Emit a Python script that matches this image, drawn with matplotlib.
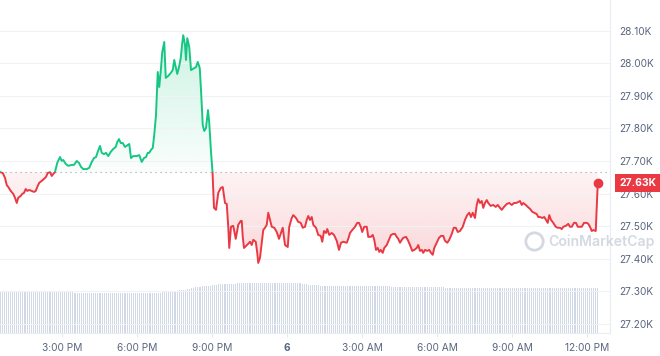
import numpy as np
import matplotlib.pyplot as plt
from matplotlib.patches import Rectangle
from matplotlib.colors import to_rgb

# ========================================
# Data (hours relative to midnight of the 6th, price in USD)
# ========================================

hours_a = [-11.48, -11.37, -11.28, -11.21, -11.15, -11.05, -10.95, -10.88, -10.81, -10.75,
           -10.65, -10.59, -10.52, -10.45, -10.39, -10.31, -10.21, -10.12, -10.05, -9.99,
           -9.91, -9.81, -9.72, -9.64, -9.57, -9.48, -9.41, -9.35, -9.28, -9.19,
           -9.08, -9.01, -8.95, -8.85, -8.75, -8.61, -8.52, -8.41, -8.32, -8.24,
           -8.15, -8.01, -7.91, -7.81, -7.72, -7.64, -7.57, -7.48, -7.41, -7.32,
           -7.24, -7.15, -7.05, -6.95, -6.85, -6.79, -6.72, -6.65, -6.57, -6.48]
price_a = [27666, 27663, 27648, 27626, 27620, 27608, 27599, 27587, 27571, 27587,
           27593, 27599, 27602, 27614, 27608, 27611, 27608, 27605, 27608, 27620,
           27633, 27639, 27645, 27651, 27663, 27666, 27654, 27660, 27666, 27694,
           27712, 27700, 27703, 27691, 27685, 27688, 27688, 27700, 27694, 27682,
           27675, 27675, 27679, 27697, 27709, 27712, 27728, 27746, 27725, 27721,
           27725, 27715, 27728, 27737, 27743, 27758, 27767, 27755, 27755, 27743]

hours_b = [-6.37, -6.31, -6.24, -6.15, -6.01, -5.91, -5.81, -5.72, -5.64, -5.57,
           -5.51, -5.44, -5.37, -5.31, -5.24, -5.17, -5.11, -5.04, -4.99, -4.91,
           -4.85, -4.75, -4.65, -4.57, -4.51, -4.45, -4.39, -4.32, -4.25, -4.19,
           -4.15, -4.08, -4.04, -3.99, -3.91, -3.84, -3.77, -3.71, -3.64, -3.57,
           -3.49, -3.44, -3.37, -3.31, -3.24, -3.16, -3.11, -3.04, -2.98]
price_b = [27749, 27752, 27709, 27715, 27715, 27718, 27697, 27709, 27712, 27725,
           27725, 27734, 27740, 27780, 27841, 27973, 27927, 27985, 28034, 28065,
           27955, 27961, 27970, 27979, 28010, 27988, 27967, 27988, 28016, 28062,
           28086, 28056, 28010, 28077, 28050, 27979, 27982, 27985, 27988, 28004,
           27985, 27918, 27810, 27792, 27801, 27856, 27817, 27728, 27666]

hours_c = [-2.92, -2.84, -2.75, -2.65, -2.57, -2.48, -2.41, -2.35, -2.31, -2.24,
           -2.15, -2.05, -1.95, -1.85, -1.81, -1.77, -1.72, -1.64, -1.55, -1.48,
           -1.41, -1.35, -1.25, -1.19, -1.15, -1.08, -1.01, -0.95, -0.88, -0.81,
           -0.75, -0.68, -0.61, -0.51, -0.41, -0.32, -0.24, -0.17, -0.08, 0.03,
           0.09, 0.19, 0.25, 0.36, 0.45, 0.55, 0.63, 0.72, 0.79, 0.85,
           0.92, 0.99, 1.05, 1.16, 1.25, 1.35, 1.41, 1.48, 1.56, 1.61,
           1.69, 1.79, 1.88]
price_c = [27556, 27550, 27602, 27617, 27620, 27571, 27568, 27498, 27433, 27498,
           27501, 27461, 27504, 27516, 27516, 27467, 27433, 27439, 27446, 27452,
           27442, 27458, 27452, 27418, 27387, 27403, 27449, 27488, 27495, 27504,
           27541, 27519, 27498, 27495, 27482, 27461, 27479, 27495, 27442, 27436,
           27498, 27525, 27534, 27525, 27513, 27510, 27495, 27498, 27519, 27531,
           27519, 27528, 27504, 27495, 27473, 27470, 27452, 27485, 27479, 27491,
           27473, 27479, 27473]

hours_d = [1.99, 2.08, 2.16, 2.25, 2.39, 2.45, 2.52, 2.61, 2.72, 2.81,
           2.88, 2.95, 3.01, 3.09, 3.19, 3.25, 3.35, 3.43, 3.49, 3.56,
           3.63, 3.69, 3.75, 3.83, 3.89, 3.99, 4.08, 4.16, 4.25, 4.32,
           4.39, 4.45, 4.52, 4.59, 4.65, 4.76, 4.83, 4.92, 5.01, 5.09,
           5.19, 5.25, 5.32, 5.39, 5.45, 5.52, 5.61, 5.69, 5.76, 5.83,
           5.89, 5.99, 6.08, 6.16, 6.25, 6.32, 6.41, 6.49, 6.59, 6.67,
           6.75, 6.83, 6.92]
price_d = [27455, 27427, 27449, 27452, 27449, 27461, 27479, 27488, 27498, 27510,
           27510, 27498, 27482, 27498, 27498, 27467, 27467, 27473, 27458, 27427,
           27433, 27421, 27427, 27418, 27433, 27442, 27458, 27473, 27476, 27476,
           27467, 27461, 27449, 27458, 27464, 27467, 27458, 27442, 27424, 27427,
           27433, 27442, 27424, 27427, 27418, 27427, 27424, 27427, 27418, 27412,
           27433, 27449, 27464, 27470, 27470, 27455, 27449, 27458, 27476, 27495,
           27495, 27482, 27485]

hours_e = [7.03, 7.12, 7.21, 7.29, 7.36, 7.43, 7.52, 7.59, 7.65, 7.72,
           7.79, 7.85, 7.92, 7.99, 8.05, 8.15, 8.25, 8.35, 8.43, 8.52,
           8.59, 8.68, 8.79, 8.89, 8.99, 9.08, 9.16, 9.25, 9.32, 9.39,
           9.45, 9.55, 9.63, 9.72, 9.81, 9.89, 9.99, 10.05, 10.12, 10.21,
           10.29, 10.36, 10.43, 10.49, 10.56, 10.65, 10.75, 10.83, 10.92, 10.99,
           11.05, 11.16, 11.25, 11.32, 11.39, 11.48, 11.56, 11.63, 11.72, 11.79,
           11.88, 11.99, 12.05, 12.12, 12.19, 12.25, 12.35, 12.43]
price_e = [27498, 27519, 27534, 27541, 27528, 27541, 27525, 27565, 27583, 27571,
           27577, 27556, 27571, 27580, 27571, 27562, 27565, 27559, 27565, 27556,
           27550, 27559, 27568, 27571, 27565, 27571, 27571, 27574, 27577, 27565,
           27571, 27565, 27559, 27553, 27544, 27541, 27537, 27528, 27528, 27525,
           27528, 27519, 27510, 27534, 27519, 27510, 27498, 27495, 27495, 27491,
           27498, 27501, 27507, 27498, 27498, 27510, 27510, 27498, 27498, 27498,
           27510, 27510, 27507, 27498, 27485, 27488, 27485, 27632]

# 24h rolling volume (billion USD), one bar every 5 minutes, one row per hour
volume = [
    12.2, 12.2, 12.2, 12.2, 12.2, 12.2, 12.2, 12.2, 12.2, 12.2, 12.2, 12.2,
    12.2, 12.2, 12.2, 12.2, 12.2, 12.2, 12.2, 12.2, 12.2, 12.2, 12.2, 12.2,
    12.2, 12.2, 12.2, 12.2, 12.2, 12.2, 12.2, 12.2, 12.2, 12.2, 12.2, 12.2,
    12.1, 12.1, 12.1, 12.0, 12.0, 12.0, 12.0, 12.0, 12.0, 12.0, 12.0, 12.0,
    12.0, 12.0, 12.0, 12.0, 12.0, 12.0, 12.0, 12.0, 12.0, 12.0, 12.0, 12.0,
    12.0, 12.0, 12.0, 12.0, 12.0, 12.0, 12.0, 12.0, 12.0, 12.0, 12.0, 12.0,
    12.0, 12.0, 12.0, 12.0, 12.0, 12.0, 12.6, 12.6, 12.6, 12.6, 12.7, 12.7,
    12.7, 12.7, 12.8, 12.8, 12.9, 13.0, 13.2, 13.3, 13.5, 13.6, 13.7, 13.8,
    13.9, 14.0, 14.0, 14.1, 14.1, 14.2, 14.3, 14.4, 14.5, 14.6, 14.6, 14.7,
    14.7, 14.7, 14.8, 14.8, 14.8, 14.8, 14.9, 14.9, 14.9, 14.9, 14.9, 14.9,
    15.0, 15.0, 15.0, 15.0, 15.0, 15.0, 15.0, 15.0, 15.0, 15.0, 15.0, 15.0,
    15.0, 15.0, 15.0, 15.0, 15.0, 15.0, 15.0, 15.0, 15.0, 15.0, 15.0, 15.0,
    14.9, 14.7, 14.6, 14.6, 14.5, 14.5, 14.4, 14.4, 14.3, 14.3, 14.2, 14.2,
    14.1, 14.1, 14.0, 14.0, 14.0, 14.0, 14.0, 14.0, 14.0, 14.0, 14.0, 14.0,
    14.0, 14.0, 14.0, 14.0, 14.0, 14.0, 14.0, 14.0, 14.0, 14.0, 14.0, 14.0,
    14.0, 14.0, 14.0, 14.0, 14.0, 14.0, 14.0, 14.1, 13.9, 13.9, 13.9, 13.9,
    13.9, 13.9, 13.9, 13.9, 13.9, 13.9, 13.9, 13.9, 13.9, 13.9, 13.9, 13.9,
    13.9, 13.9, 13.9, 13.9, 13.9, 13.9, 13.9, 13.9, 13.9, 13.9, 13.5, 13.4,
    13.4, 13.4, 13.4, 13.4, 13.4, 13.4, 13.4, 13.4, 13.4, 13.4, 13.4, 13.4,
    13.4, 13.4, 13.4, 13.4, 13.4, 13.4, 13.4, 13.4, 13.4, 13.4, 13.4, 13.4,
    13.4, 13.4, 13.4, 13.4, 13.4, 13.4, 13.4, 13.4, 13.4, 13.4, 13.4, 13.4,
    13.4, 13.4, 13.4, 13.4, 13.4, 13.4, 13.4, 13.4, 13.4, 13.4, 13.4, 13.4,
    13.4, 13.4, 13.4, 13.4, 13.4, 13.4, 13.4, 13.4, 13.4, 13.4, 13.4, 13.4,
    13.4, 13.4, 13.4, 13.4, 13.4, 13.4, 13.4, 13.4, 13.4, 13.4, 13.4, 13.4,
]

open_price = 27666
tick_hours = [-9, -6, -3, 0, 3, 6, 9, 12]
tick_labels = ['3:00 PM', '6:00 PM', '9:00 PM', '6', '3:00 AM', '6:00 AM', '9:00 AM', '12:00 PM']
price_ticks = [27200, 27300, 27400, 27500, 27600, 27700, 27800, 27900, 28000, 28100]

# ========================================
# Style
# ========================================

GREEN = '#16c784'
RED = '#ea3943'
GREY_TEXT = '#58667e'
GRID = '#f0f2f5'
XMIN, XMAX = -11.48, 12.92
YMIN, YMAX = 27172, 28194

plt.rcParams['font.family'] = ['Inter', 'DejaVu Sans']

t = np.array(hours_a + hours_b + hours_c + hours_d + hours_e)
p = np.array(price_a + price_b + price_c + price_d + price_e, dtype=float)

fig = plt.figure(figsize=(6.6, 3.56), dpi=100)
pos = [0, 23 / 356, 610 / 660, 333 / 356]

# volume bars on their own axes behind the price
axv = fig.add_axes(pos, zorder=0)
vol_t = XMIN + np.arange(len(volume)) / 12
axv.bar(vol_t, volume, width=0.045, color='#d2d9e6', align='center')
axv.set_xlim(XMIN, XMAX)
axv.set_ylim(0, 100)
axv.axis('off')

ax = fig.add_axes(pos, zorder=1)
ax.patch.set_alpha(0)


def gradient_fill(color, above, a_near, a_far):
    poly = ax.fill_between(t, p, open_price, color='none', lw=0)
    lo, hi = (open_price, p.max()) if above else (p.min(), open_price)
    rgba = np.zeros((256, 1, 4))
    rgba[..., :3] = to_rgb(color)
    ramp = np.linspace(0, 1, 256)
    if above:
        rgba[:, 0, 3] = a_near + (a_far - a_near) * ramp
    else:
        rgba[:, 0, 3] = a_far + (a_near - a_far) * ramp
    im = ax.imshow(rgba, extent=[t[0], t[-1], lo, hi], origin='lower',
                   aspect='auto', zorder=1, interpolation='bilinear')
    im.set_clip_path(poly.get_paths()[0], ax.transData)


gradient_fill(GREEN, True, 0.02, 0.22)
gradient_fill(RED, False, 0.06, 0.20)

# line: green above the open price, red below
for color, lo, hi in [(GREEN, open_price, YMAX), (RED, YMIN, open_price)]:
    line, = ax.plot(t, p, color=color, lw=1.4, zorder=3, solid_joinstyle='round')
    line.set_clip_path(Rectangle((XMIN, lo), XMAX - XMIN, hi - lo, transform=ax.transData))

ax.axhline(open_price, color='#9aa1ad', lw=0.8, ls=(0, (1, 3.5)), zorder=2)
ax.plot(t[-1], p[-1], 'o', color=RED, ms=6, zorder=4)

ax.set_xlim(XMIN, XMAX)
ax.set_ylim(YMIN, YMAX)

# axes styling
ax.yaxis.tick_right()
ax.set_yticks(price_ticks)
ax.set_yticklabels([f"{v / 1000:.2f}K" for v in price_ticks])
ax.tick_params(axis='y', length=0, pad=7, labelsize=7.3, labelcolor=GREY_TEXT)
ax.set_xticks(tick_hours)
ax.set_xticklabels(tick_labels)
ax.tick_params(axis='x', length=3, color='#e6e9ee', pad=4, labelsize=7.3, labelcolor=GREY_TEXT)
ax.get_xticklabels()[3].set_fontweight('bold')
ax.grid(axis='y', color=GRID, lw=0.8, zorder=0)
for side in ['top', 'left']:
    ax.spines[side].set_visible(False)
for side in ['right', 'bottom']:
    ax.spines[side].set_color('#e9ecf1')
    ax.spines[side].set_linewidth(0.8)

# current price tag
ax.annotate(f"{p[-1] / 1000:.2f}K", xy=(1.0, p[-1]), xycoords=('axes fraction', 'data'),
            xytext=(7, 0), textcoords='offset points', ha='left', va='center',
            fontsize=7.5, fontweight='bold', color='white', annotation_clip=False,
            bbox=dict(boxstyle='square,pad=0.42', fc=RED, ec='none'), zorder=6)

# watermark
ax.plot([0.875], [0.276], marker='o', ms=12.5, mfc='none', mec='#c8cfda', mew=2,
        transform=ax.transAxes, clip_on=False, zorder=5, alpha=0.8)
ax.text(0.899, 0.274, 'CoinMarketCap', transform=ax.transAxes, ha='left', va='center',
        fontsize=10.1, fontweight='semibold', color='#c8cfda', alpha=0.8, clip_on=False, zorder=5)

fig.savefig('out.png', dpi=100)
